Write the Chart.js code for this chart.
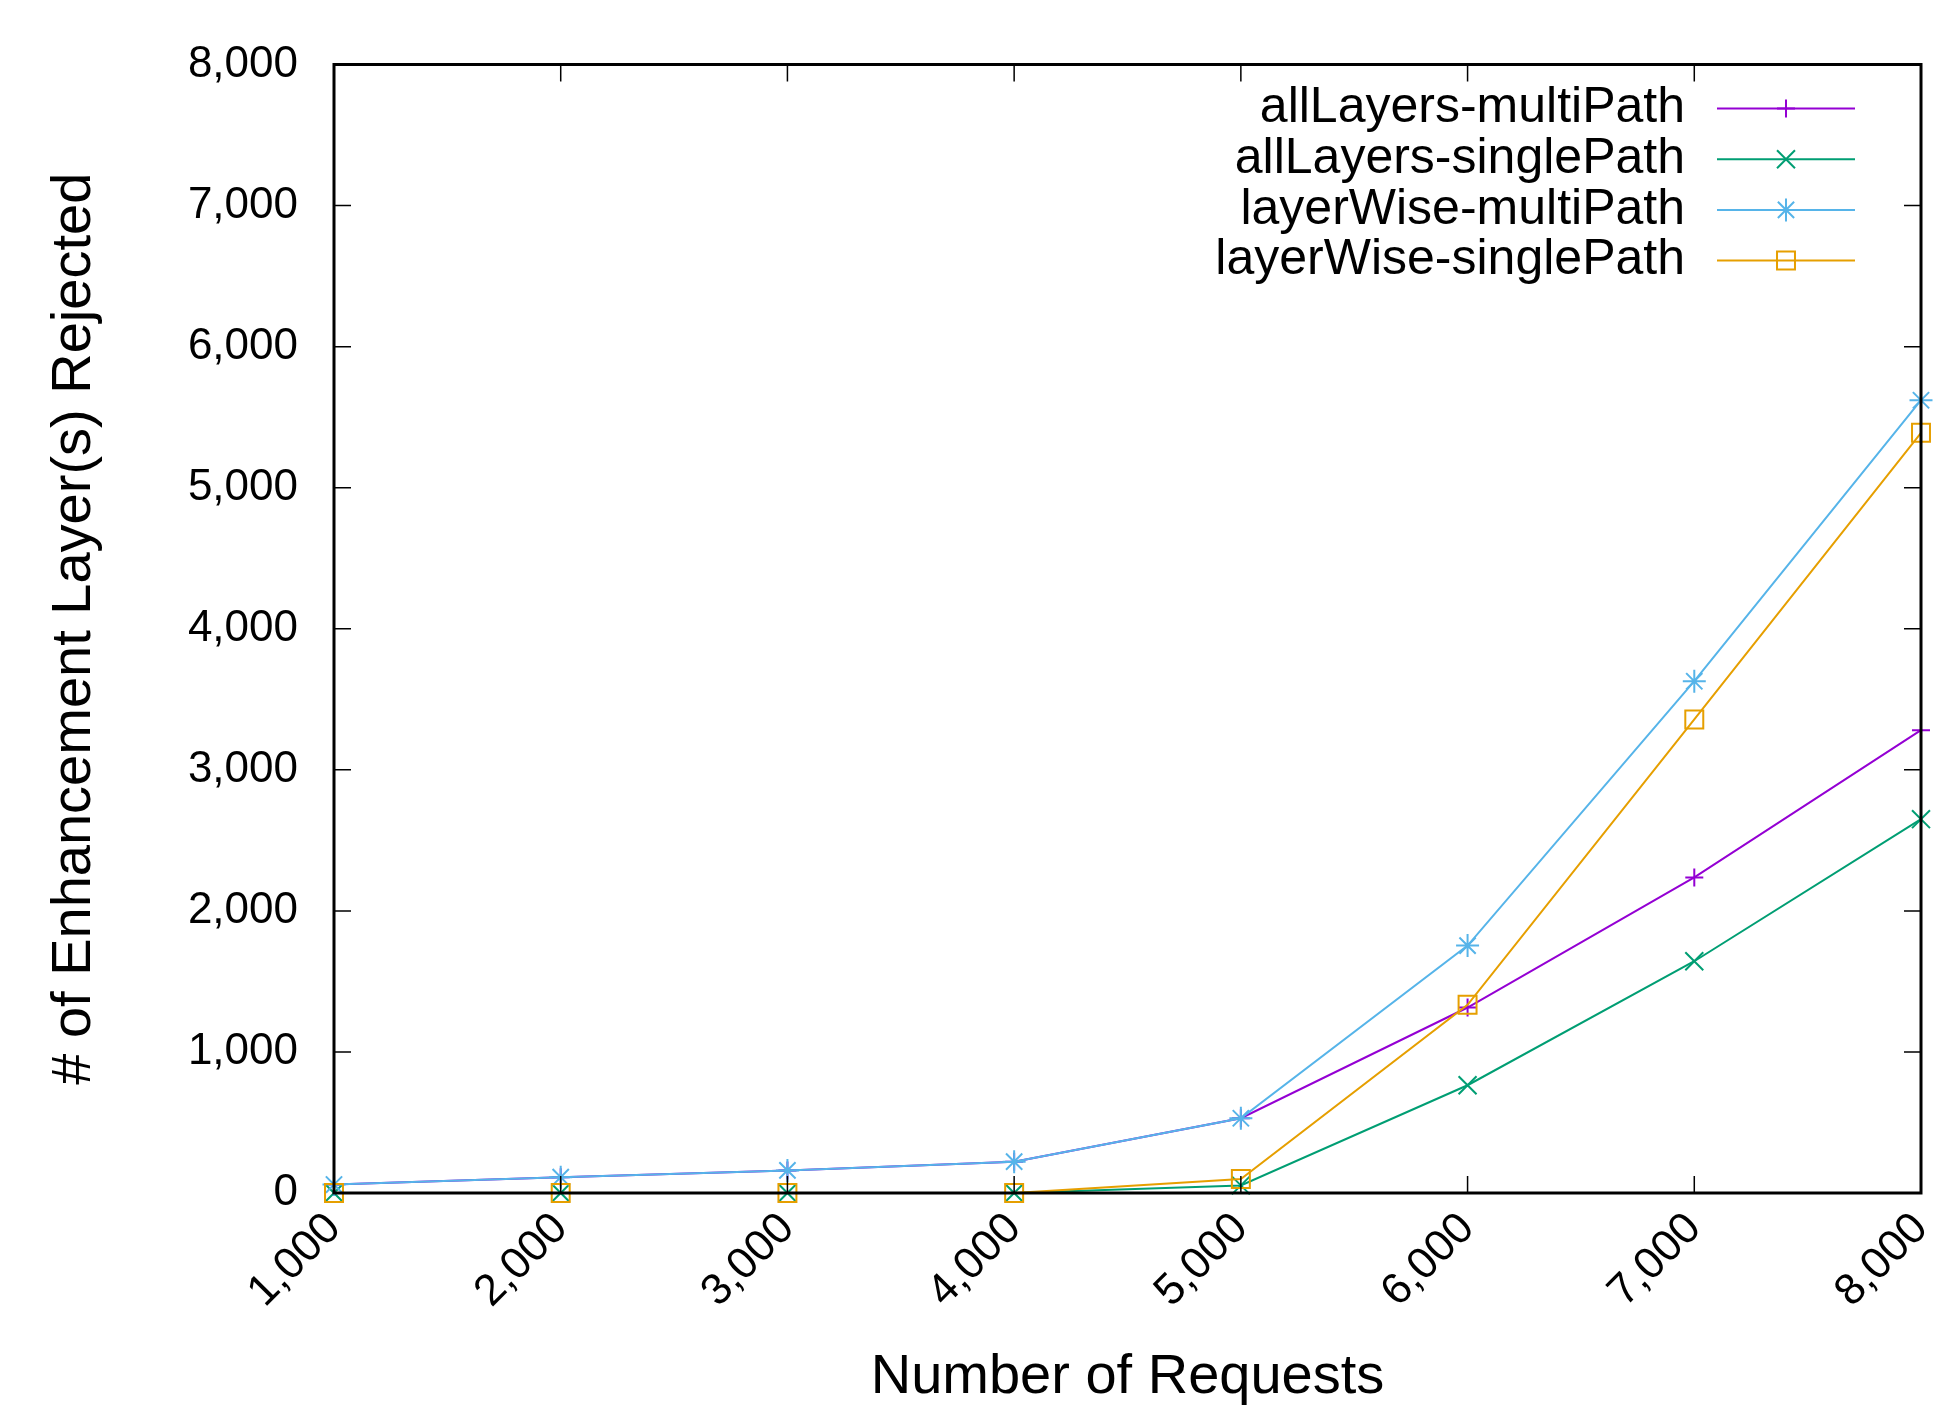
<!DOCTYPE html>
<html>
<head>
<meta charset="utf-8">
<title>Enhancement layers rejected</title>
<script src="https://cdn.jsdelivr.net/npm/chart.js@4/dist/chart.umd.min.js"></script>
<style>
    html, body { margin: 0; padding: 0; background: white; }
    #graph { width: 1959px; height: 1428px; }
</style>
</head>
<body>
<div id="graph"><canvas id="courbe" width="1959" height="1428"></canvas></div>
<script>
addEventListener("DOMContentLoaded", init);

// valeurs
const requetes = [1000, 2000, 3000, 4000, 5000, 6000, 7000, 8000];
const allLayersMulti = [60, 112, 160, 222, 530, 1315, 2237, 3281];
const allLayersSingle = [0, 0, 0, 0, 54, 764, 1643, 2650];
const layerWiseMulti = [60, 112, 160, 222, 530, 1754, 3628, 5620];
const layerWiseSingle = [0, 0, 0, 0, 99, 1334, 3357, 5389];

const nomsSeries = ["allLayers-multiPath", "allLayers-singlePath", "layerWise-multiPath", "layerWise-singlePath"];
const xTicks = [1000, 2000, 3000, 4000, 5000, 6000, 7000, 8000];
const yTicks = [0, 1000, 2000, 3000, 4000, 5000, 6000, 7000, 8000];

const couleurs = ["#9400d3", "#009e73", "#56b4e9", "#e69f00"];
const symboles = ["cross", "crossRot", "star", "rect"];
const tailles = [9, 12.7, 11.5, 12.7];
const police = "'Liberation Sans', Arial, Helvetica, sans-serif";

// cadre noir + petites graduations vers l'intérieur
const cadre = {
    id: "cadre",
    afterDatasetsDraw(chart) {
        const ctx = chart.ctx;
        const a = chart.chartArea;
        const sx = chart.scales.x;
        const sy = chart.scales.y;
        ctx.save();
        ctx.strokeStyle = "#000";
        ctx.lineWidth = 1.5;
        ctx.beginPath();
        sy.ticks.forEach(function (t) {
            const py = sy.getPixelForValue(t.value);
            ctx.moveTo(a.left, py);
            ctx.lineTo(a.left + 17, py);
            ctx.moveTo(a.right, py);
            ctx.lineTo(a.right - 17, py);
        });
        sx.ticks.forEach(function (t) {
            const px = sx.getPixelForValue(t.value);
            ctx.moveTo(px, a.bottom);
            ctx.lineTo(px, a.bottom - 17);
            ctx.moveTo(px, a.top);
            ctx.lineTo(px, a.top + 17);
        });
        ctx.stroke();
        ctx.lineWidth = 3;
        ctx.strokeRect(a.left, a.top, a.right - a.left, a.bottom - a.top);
        ctx.restore();
    }
};

// légende façon gnuplot : texte à gauche, trait + symbole à droite
const legende = {
    id: "legende",
    afterDraw(chart) {
        const ctx = chart.ctx;
        const a = chart.chartArea;
        ctx.save();
        ctx.font = "50px " + police;
        ctx.textAlign = "right";
        ctx.textBaseline = "middle";
        chart.data.datasets.forEach(function (ds, i) {
            const y = a.top + 44 + i * 50.7;
            ctx.fillStyle = "#000";
            ctx.fillText(ds.label, a.right - 236, y);
            ctx.strokeStyle = ds.borderColor;
            ctx.lineWidth = 2;
            ctx.beginPath();
            ctx.moveTo(a.right - 204, y);
            ctx.lineTo(a.right - 66, y);
            ctx.stroke();
            ctx.fillStyle = "rgba(0,0,0,0)";
            Chart.helpers.drawPoint(ctx, {
                pointStyle: ds.pointStyle,
                radius: ds.pointRadius,
                rotation: 0,
                borderWidth: 2
            }, a.right - 135, y);
        });
        ctx.restore();
    }
};

function init() {
    const series = [allLayersMulti, allLayersSingle, layerWiseMulti, layerWiseSingle];
    const jeux = series.map(function (valeurs, i) {
        return {
            label: nomsSeries[i],
            data: requetes.map(function (r, k) {
                return { x: r, y: valeurs[k] };
            }),
            borderColor: couleurs[i],
            borderWidth: 2,
            pointStyle: symboles[i],
            pointRadius: tailles[i],
            pointHoverRadius: tailles[i],
            pointBorderColor: couleurs[i],
            pointBorderWidth: 2,
            pointBackgroundColor: "rgba(0,0,0,0)",
            tension: 0,
            fill: false,
            clip: false,
            order: 3 - i
        };
    });

    const ctx = document.getElementById("courbe").getContext("2d");
    new Chart(ctx, {
        type: "line",
        data: { datasets: jeux },
        plugins: [cadre, legende],
        options: {
            responsive: false,
            animation: false,
            devicePixelRatio: 1,
            locale: "en-US",
            layout: { padding: { left: 0, top: 64.5, right: 38, bottom: 0 } },
            plugins: {
                legend: { display: false },
                tooltip: { enabled: false }
            },
            scales: {
                x: {
                    type: "linear",
                    min: xTicks[0],
                    max: xTicks[xTicks.length - 1],
                    afterBuildTicks: function (scale) {
                        scale.ticks = xTicks.map(function (v) { return { value: v }; });
                    },
                    afterFit: function (scale) {
                        scale.height = 235;
                        scale.paddingLeft = 0;
                        scale.paddingRight = 0;
                    },
                    grid: { display: false, drawTicks: false },
                    border: { display: false },
                    ticks: {
                        color: "#000",
                        font: { family: police, size: 44 },
                        minRotation: 45,
                        maxRotation: 45,
                        padding: 10
                    },
                    title: {
                        display: true,
                        text: "Number of Requests",
                        color: "#000",
                        font: { family: police, size: 56 },
                        padding: { top: 0, bottom: 17 }
                    }
                },
                y: {
                    type: "linear",
                    min: yTicks[0],
                    max: yTicks[yTicks.length - 1],
                    afterBuildTicks: function (scale) {
                        scale.ticks = yTicks.map(function (v) { return { value: v }; });
                    },
                    afterFit: function (scale) {
                        scale.width = 334;
                        scale.paddingTop = 0;
                        scale.paddingBottom = 0;
                    },
                    grid: { display: false, drawTicks: false },
                    border: { display: false },
                    ticks: {
                        color: "#000",
                        font: { family: police, size: 44 },
                        padding: 36
                    },
                    title: {
                        display: true,
                        text: "# of Enhancement Layer(s) Rejected",
                        color: "#000",
                        font: { family: police, size: 56 },
                        padding: { top: 41, bottom: 0 }
                    }
                }
            }
        }
    });
}
</script>
</body>
</html>
